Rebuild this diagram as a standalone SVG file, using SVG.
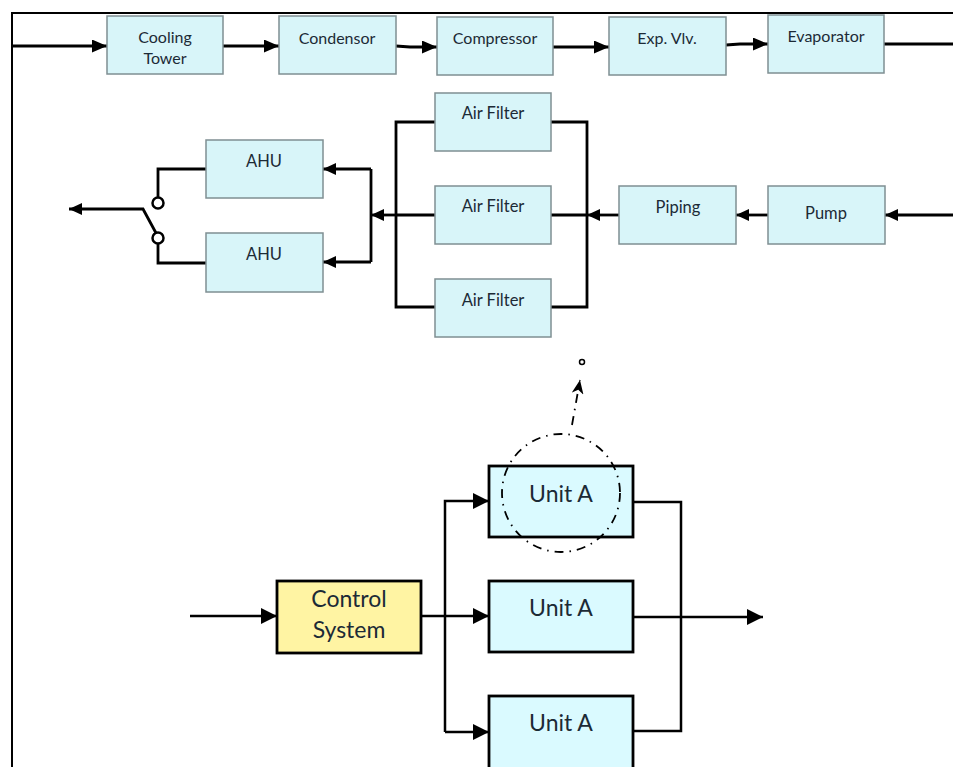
<svg xmlns="http://www.w3.org/2000/svg" width="953" height="767" viewBox="0 0 953 767">
<defs>
<style>
.frame{fill:none;stroke:#000;stroke-width:2}
.b1{fill:#D8F5F9;stroke:#7f8f92;stroke-width:1.5}
.b2{fill:#DAFAFF;stroke:#000;stroke-width:2.8}
.b3{fill:#FFF4A3;stroke:#000;stroke-width:2.8}
.t{font-family:Lato,"Open Sans",sans-serif;fill:#1c2a36;text-anchor:middle}
.s{font-size:16px}
.m{font-size:16.5px}
.l{font-size:23px}
.c{fill:none;stroke:#000;stroke-width:2.8;stroke-linejoin:miter}
.cb{fill:none;stroke:#000;stroke-width:2.5}
.dd{fill:none;stroke:#000;stroke-width:1.8;stroke-dasharray:9 6 1.5 6}
</style>
<marker id="a" markerUnits="userSpaceOnUse" markerWidth="15" markerHeight="13" refX="15" refY="6.5" orient="auto"><path d="M0,0L15,6.5L0,13z" fill="#000"/></marker>
<marker id="am" markerUnits="userSpaceOnUse" markerWidth="13" markerHeight="12" refX="13" refY="6" orient="auto"><path d="M0,0L13,6L0,12z" fill="#000"/></marker>
<marker id="ab" markerUnits="userSpaceOnUse" markerWidth="16" markerHeight="16" refX="16" refY="8" orient="auto"><path d="M0,0L16,8L0,16z" fill="#000"/></marker>
<marker id="as" markerUnits="userSpaceOnUse" markerWidth="14" markerHeight="12" refX="14" refY="6" orient="auto"><path d="M0,0L14,6L0,12L4,6z" fill="#000"/></marker>
</defs>
<rect width="953" height="767" fill="#fff"/>
<path class="frame" d="M12,767V13H953"/>

<g id="connectors">
<path class="c" d="M12,46H107" marker-end="url(#a)"/>
<path class="c" d="M223,46H279" marker-end="url(#a)"/>
<path class="c" d="M396,46L410,47H437" marker-end="url(#a)"/>
<path class="c" d="M553,47H609" marker-end="url(#a)"/>
<path class="c" d="M726,45L740,44H768" marker-end="url(#a)"/>
<path class="c" d="M884,44H953"/>

<path class="c" d="M953,215H885" marker-end="url(#am)"/>
<path class="c" d="M768,215H736" marker-end="url(#am)"/>
<path class="c" d="M619,215H587" marker-end="url(#am)"/>
<path class="c" d="M551,122H587V307H551M551,215H587"/>
<path class="c" d="M435,122H396V307H435M435,215H396"/>
<path class="c" d="M396,215H371" marker-end="url(#am)"/>
<path class="c" d="M371,169V262"/>
<path class="c" d="M371,169H323" marker-end="url(#am)"/>
<path class="c" d="M371,262H323" marker-end="url(#am)"/>
<path class="c" d="M206,169H158V197.5M158,243.5V263H206"/>
<path class="c" d="M156,233L143,209H69" marker-end="url(#am)"/>
<circle cx="158" cy="203" r="5.5" fill="#fff" stroke="#000" stroke-width="2.5"/>
<circle cx="158" cy="238" r="5.5" fill="#fff" stroke="#000" stroke-width="2.5"/>

<path class="cb" d="M190,616H277" marker-end="url(#ab)"/>
<path class="cb" d="M421,616H489" marker-end="url(#ab)"/>
<path class="cb" d="M445,732V501H489" marker-end="url(#ab)"/>
<path class="cb" d="M445,732H489" marker-end="url(#ab)"/>
<path class="cb" d="M633,502H681V731H633"/>
<path class="cb" d="M633,617H763" marker-end="url(#ab)"/>

<path class="dd" d="M572,425L580,380" marker-end="url(#as)"/>
<circle cx="582" cy="362" r="2.5" fill="#fff" stroke="#000" stroke-width="1.5"/>
</g>

<g id="cooling-tower"><rect class="b1" x="107" y="16" width="116" height="58"/><text class="t s" x="165" y="43">Cooling</text><text class="t s" x="165" y="64">Tower</text></g>
<g id="condensor"><rect class="b1" x="279" y="16" width="117" height="58"/><text class="t s" x="337" y="44">Condensor</text></g>
<g id="compressor"><rect class="b1" x="437" y="17" width="116" height="58"/><text class="t s" x="495" y="44">Compressor</text></g>
<g id="exp-vlv"><rect class="b1" x="609" y="17" width="117" height="58"/><text class="t s" x="667" y="44">Exp. Vlv.</text></g>
<g id="evaporator"><rect class="b1" x="768" y="15" width="116" height="58"/><text class="t s" x="826" y="42">Evaporator</text></g>

<g id="air-filter-1"><rect class="b1" x="435" y="93" width="116" height="58"/><text class="t m" x="493" y="119">Air Filter</text></g>
<g id="air-filter-2"><rect class="b1" x="435" y="186" width="116" height="58"/><text class="t m" x="493" y="212">Air Filter</text></g>
<g id="air-filter-3"><rect class="b1" x="435" y="279" width="116" height="58"/><text class="t m" x="493" y="306">Air Filter</text></g>
<g id="piping"><rect class="b1" x="619" y="186" width="117" height="58"/><text class="t m" x="678" y="213">Piping</text></g>
<g id="pump"><rect class="b1" x="768" y="186" width="117" height="58"/><text class="t m" x="826" y="219">Pump</text></g>
<g id="ahu-1"><rect class="b1" x="206" y="140" width="117" height="58"/><text class="t m" x="264" y="167">AHU</text></g>
<g id="ahu-2"><rect class="b1" x="206" y="233" width="117" height="59"/><text class="t m" x="264" y="260">AHU</text></g>

<g id="control-system"><rect class="b3" x="277" y="581" width="144" height="72"/><text class="t l" x="349" y="607">Control</text><text class="t l" x="349" y="638">System</text></g>
<g id="unit-a-1"><rect class="b2" x="489" y="466" width="144" height="71"/><text class="t l" x="561" y="502">Unit A</text></g>
<g id="unit-a-2"><rect class="b2" x="489" y="581" width="144" height="71"/><text class="t l" x="561" y="616">Unit A</text></g>
<g id="unit-a-3"><rect class="b2" x="489" y="696" width="144" height="80"/><text class="t l" x="561" y="731">Unit A</text></g>

<g id="highlight"><circle class="dd" cx="561" cy="493" r="59"/></g>
</svg>
